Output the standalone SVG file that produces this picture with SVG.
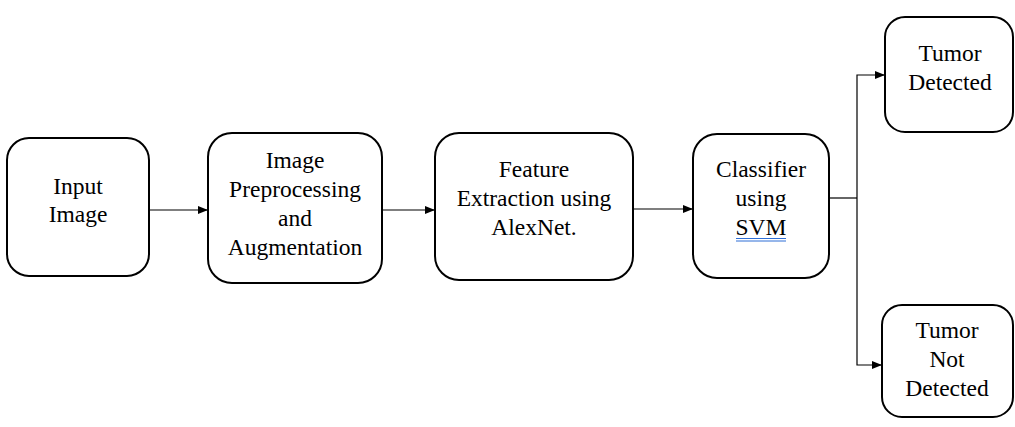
<svg xmlns="http://www.w3.org/2000/svg" width="1015" height="427" viewBox="0 0 1015 427">
<style>
.box{fill:#fff;stroke:#000;stroke-width:2}
.t{font-family:'Liberation Serif','Times New Roman',serif;font-size:23.5px;fill:#000;text-anchor:middle}
.c{fill:none;stroke:#000;stroke-width:1.2}
.ul{stroke:#2f6fd6;stroke-width:1}
</style>
<defs>
<marker id="ah" markerWidth="10" markerHeight="8" refX="10" refY="4" orient="auto" markerUnits="userSpaceOnUse">
<path d="M0,0 L10,4 L0,8 Z" fill="#000"/>
</marker>
</defs>
<rect width="1015" height="427" fill="#fff"/>
<g id="connectors">
<line class="c" x1="149" y1="210" x2="208" y2="210" marker-end="url(#ah)"/>
<line class="c" x1="378" y1="210" x2="435" y2="210" marker-end="url(#ah)"/>
<line class="c" x1="633" y1="209" x2="693" y2="209" marker-end="url(#ah)"/>
<polyline class="c" points="829,198 857,198"/>
<polyline class="c" points="857,198 857,75 885,75" marker-end="url(#ah)"/>
<polyline class="c" points="857,198 857,365 882,365" marker-end="url(#ah)"/>
</g>
<g id="input">
<rect class="box" x="7" y="138" width="142" height="138" rx="22"/>
<text class="t" x="78" y="194">Input</text>
<text class="t" x="78" y="222">Image</text>
</g>
<g id="preprocessing">
<rect class="box" x="208" y="133" width="174" height="150" rx="24"/>
<text class="t" x="295" y="168">Image</text>
<text class="t" x="295" y="197">Preprocessing</text>
<text class="t" x="295" y="226">and</text>
<text class="t" x="295" y="255">Augmentation</text>
</g>
<g id="feature">
<rect class="box" x="435" y="133" width="198" height="147" rx="24"/>
<text class="t" x="534" y="177">Feature</text>
<text class="t" x="534" y="206">Extraction using</text>
<text class="t" x="534" y="235">AlexNet.</text>
</g>
<g id="classifier">
<rect class="box" x="693" y="134" width="136" height="144" rx="24"/>
<text class="t" x="761" y="177">Classifier</text>
<text class="t" x="761" y="206">using</text>
<text class="t" x="761" y="235">SVM</text>
<line class="ul" x1="736" y1="238.5" x2="786" y2="238.5"/>
<line class="ul" x1="736" y1="241" x2="786" y2="241"/>
</g>
<g id="detected">
<rect class="box" x="885" y="17" width="128" height="115" rx="20"/>
<text class="t" x="950" y="61">Tumor</text>
<text class="t" x="950" y="90">Detected</text>
</g>
<g id="notdetected">
<rect class="box" x="882" y="305" width="131" height="112" rx="20"/>
<text class="t" x="947" y="338">Tumor</text>
<text class="t" x="947" y="367">Not</text>
<text class="t" x="947" y="396">Detected</text>
</g>
</svg>
